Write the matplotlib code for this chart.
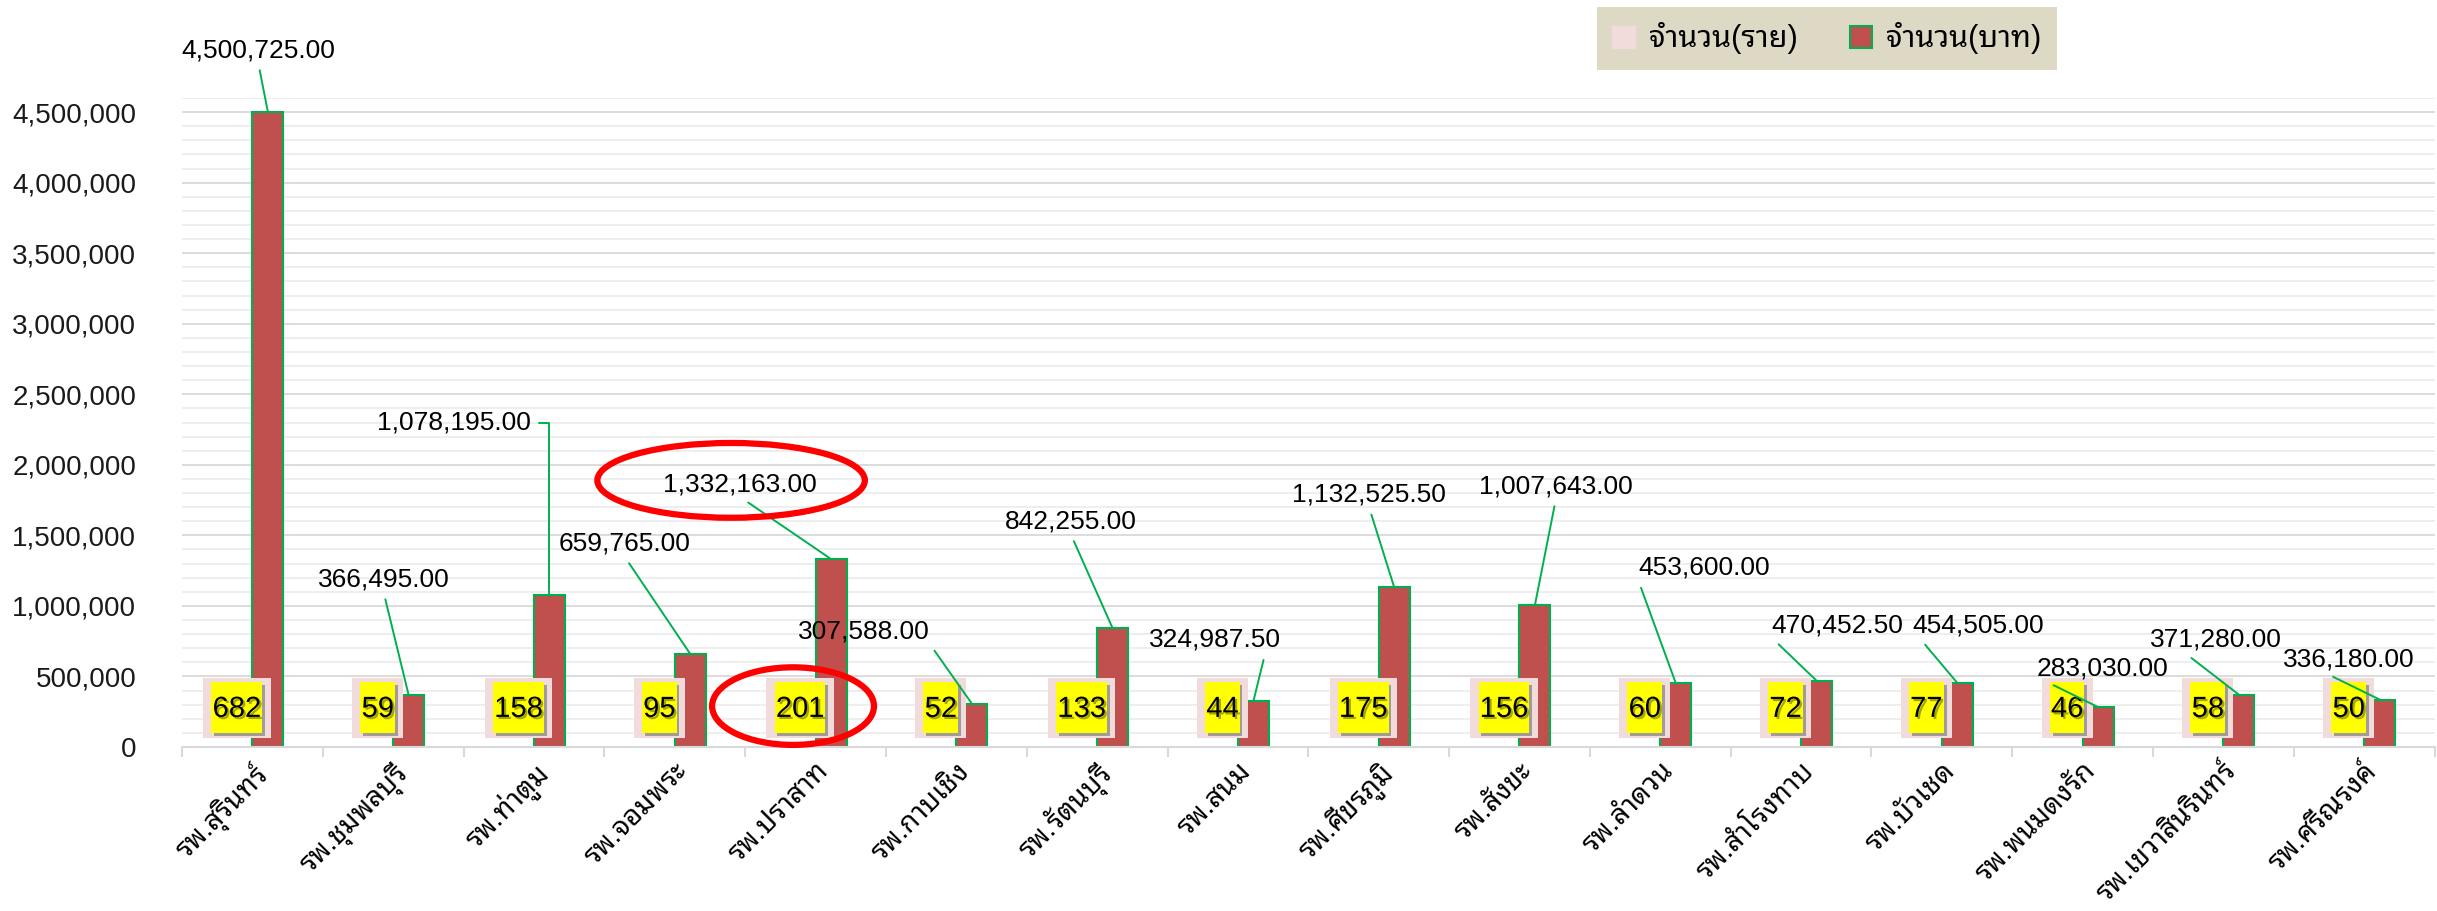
import numpy as np
import matplotlib
matplotlib.use('Agg')
import matplotlib.pyplot as plt
import matplotlib.patheffects as pe
from matplotlib.patches import Patch, Ellipse
from matplotlib.path import Path
from matplotlib.ticker import MultipleLocator, FuncFormatter

# latin digits from Liberation, thai letters fall back to the looped Noto face
plt.rcParams['font.family'] = ['Liberation Sans', 'Noto Sans Thai Looped', 'DejaVu Sans']

hospitals = ['รพ.สุรินทร์', 'รพ.ชุมพลบุรี', 'รพ.ท่าตูม', 'รพ.จอมพระ', 'รพ.ปราสาท',
             'รพ.กาบเชิง', 'รพ.รัตนบุรี', 'รพ.สนม', 'รพ.ศีขรภูมิ', 'รพ.สังขะ',
             'รพ.ลำดวน', 'รพ.สำโรงทาบ', 'รพ.บัวเชด', 'รพ.พนมดงรัก',
             'รพ.เขวาสินรินทร์', 'รพ.ศรีณรงค์']
cases = [682, 59, 158, 95, 201, 52, 133, 44, 175, 156, 60, 72, 77, 46, 58, 50]
amounts = [4500725.00, 366495.00, 1078195.00, 659765.00, 1332163.00, 307588.00,
           842255.00, 324987.50, 1132525.50, 1007643.00, 453600.00, 470452.50,
           454505.00, 283030.00, 371280.00, 336180.00]

# where excel put the amount labels (category units, baht)
lab_x = [0.04, 0.93, 1.43, 2.64, 3.46, 4.34, 5.81, 6.84, 7.93, 9.26, 10.31,
         11.26, 12.26, 13.14, 13.95, 14.89]
lab_y = [4.94e6, 1.19e6, 2.30e6, 1.44e6, 1.86e6, 0.82e6, 1.60e6, 0.76e6,
         1.79e6, 1.85e6, 1.27e6, 0.86e6, 0.86e6, 0.56e6, 0.76e6, 0.62e6]
# point of the label the leader line leaves from
lab_rel = [(0.5, 0), (0.5, 0), (1, 0.5), (0.5, 0), (0.5, 0), (1, 0), (0.5, 0),
           (0.88, 0), (0.5, 0), (0.5, 0), (0, 0), (0, 0), (0.05, 0), (0.05, 0),
           (0.25, 0), (0.3, 0)]

red = '#C0504D'
green = '#00B050'
pink = '#F2DCDB'


def padbox(left, right, bottom, top):
    def box(x0, y0, w, h, size):
        pts = [(x0 - left * size, y0 - bottom * size),
               (x0 + w + right * size, y0 - bottom * size),
               (x0 + w + right * size, y0 + h + top * size),
               (x0 - left * size, y0 + h + top * size),
               (x0 - left * size, y0 - bottom * size)]
        return Path(pts, [Path.MOVETO] + [Path.LINETO] * 3 + [Path.CLOSEPOLY])
    return box


fig = plt.figure(figsize=(24.37, 9.11), dpi=100)
ax = fig.add_axes([0.0747, 0.180, 0.9243, 0.7124])

x = np.arange(len(hospitals))
w = 0.22
ax.bar(x - w / 2, cases, w, color=pink, zorder=2)
ax.bar(x + w / 2, amounts, w, color=red, edgecolor=green, linewidth=1.5, zorder=2)

# case counts: yellow tag inside a pink tag
for i, c in enumerate(cases):
    ax.text(x[i] - w / 2, 0.27e6, str(c), ha='center', va='center', fontsize=21,
            color='none', zorder=3,
            bbox=dict(boxstyle=padbox(0.32, 0.32, 0.50, 0.58), fc=pink, ec='none'))
    t = ax.text(x[i] - w / 2, 0.27e6, str(c), ha='center', va='center', fontsize=21,
                color='black', zorder=4,
                bbox=dict(boxstyle=padbox(0.04, 0.04, 0.34, 0.44), fc='yellow', ec='none'))
    t.get_bbox_patch().set_path_effects(
        [pe.SimplePatchShadow(offset=(2, -2), shadow_rgbFace='#808080', alpha=0.7), pe.Normal()])
    t.set_path_effects([pe.SimplePatchShadow(offset=(1.5, -1.5), alpha=0.35), pe.Normal()])

# amounts with leader lines
for i, v in enumerate(amounts):
    conn = 'angle,angleA=0,angleB=90,rad=0' if lab_rel[i] == (1, 0.5) else 'arc3'
    ax.annotate(f'{v:,.2f}', xy=(x[i] + w / 2, v), xytext=(lab_x[i], lab_y[i]),
                ha='center', va='center', fontsize=19, zorder=5, annotation_clip=False,
                arrowprops=dict(arrowstyle='-', color=green, lw=1.4, relpos=lab_rel[i],
                                shrinkA=4, shrinkB=0, connectionstyle=conn))

# red hand-drawn rings around ปราสาท
ax.add_patch(Ellipse((lab_x[4] - 0.06, lab_y[4] + 0.03e6), 1.90, 0.53e6, fill=False,
                     ec='red', lw=4.5, clip_on=False, zorder=6))
ax.add_patch(Ellipse((x[4] - w / 2 - 0.05, 0.29e6), 1.15, 0.55e6, fill=False,
                     ec='red', lw=4.5, clip_on=False, zorder=6))

ax.set_xlim(-0.5, len(hospitals) - 0.5)
ax.set_ylim(0, 4.6e6)
ax.yaxis.set_major_locator(MultipleLocator(500000))
ax.yaxis.set_minor_locator(MultipleLocator(100000))
ax.yaxis.set_major_formatter(FuncFormatter(lambda v, p: f'{v:,.0f}'))
ax.grid(axis='y', which='major', color='#D9D9D9', lw=1.3)
ax.grid(axis='y', which='minor', color='#EDEDED', lw=1.3)
ax.set_axisbelow(True)
ax.tick_params(axis='y', which='both', length=0, labelsize=20, pad=33, labelcolor='#1a1a1a')

ax.set_xticks(x)
ax.set_xticklabels(hospitals, rotation=45, ha='right', rotation_mode='anchor', fontsize=20)
ax.set_xticks(np.arange(-0.5, len(hospitals), 1), minor=True)
ax.tick_params(axis='x', which='major', length=0, pad=8)
ax.tick_params(axis='x', which='minor', length=7, width=1.5, color='#D9D9D9')
for s in ['top', 'right', 'left']:
    ax.spines[s].set_visible(False)
ax.spines['bottom'].set_color('#D9D9D9')
ax.spines['bottom'].set_linewidth(1.5)

handles = [Patch(facecolor=pink, edgecolor=pink, label='จำนวน(ราย)'),
           Patch(facecolor=red, edgecolor=green, linewidth=1.5, label='จำนวน(บาท)')]
leg = fig.legend(handles=handles, loc='upper left', bbox_to_anchor=(0.649, 1.009), ncol=2,
                 fontsize=22, frameon=True, fancybox=False, facecolor='#DDD9C4',
                 edgecolor='none', framealpha=1, handlelength=0.75, handleheight=0.75,
                 handletextpad=0.45, columnspacing=1.7, borderpad=0.5)

fig.savefig('out.png', dpi=100)
